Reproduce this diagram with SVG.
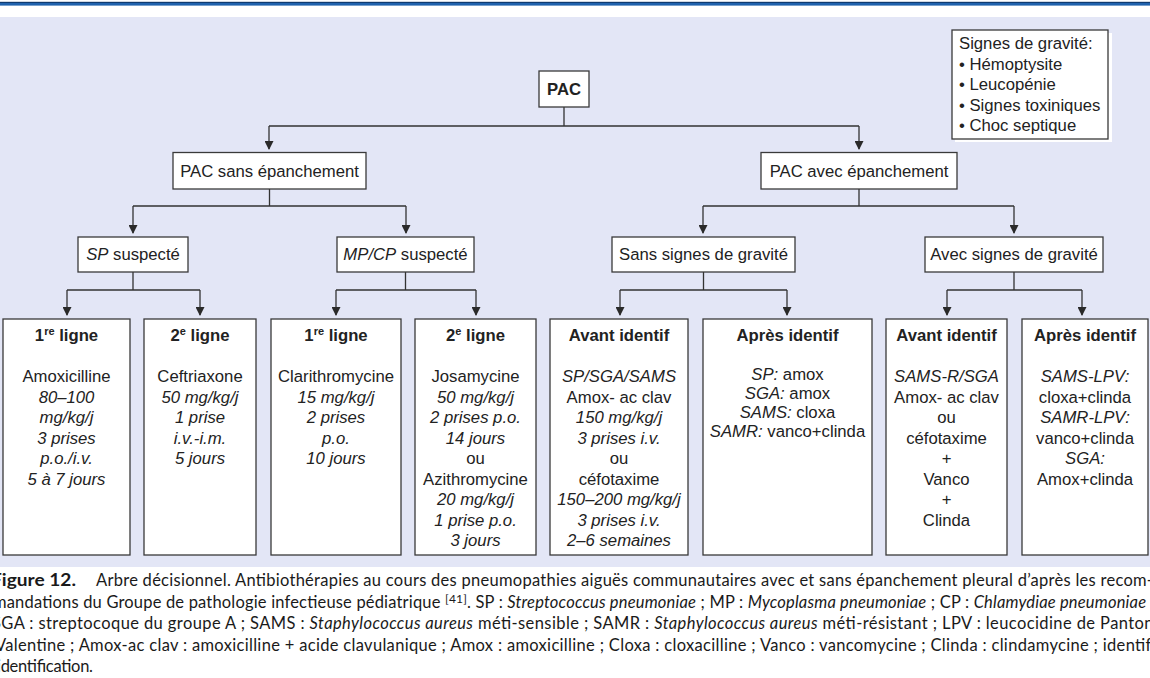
<svg xmlns="http://www.w3.org/2000/svg" width="1150" height="678" viewBox="0 0 1150 678">
<defs>
<style>
.box{fill:#fff;stroke:#3a3a3a;stroke-width:1.3}
.t{font-family:"Liberation Sans",Arial,sans-serif;font-size:16.7px;fill:#222;text-anchor:middle}
.b{font-weight:bold}
.i{font-style:italic}
.conn{fill:none;stroke:#333;stroke-width:1.3}
.cap{font-family:Lato,"Liberation Sans",sans-serif;font-size:16.5px;fill:#1a1a1a}
.sup{font-size:11px}
</style>
<marker id="arr" viewBox="0 0 9 9" refX="8" refY="4.5" markerWidth="9" markerHeight="9" markerUnits="userSpaceOnUse" orient="auto">
<path d="M0,0 L9,4.5 L0,9 z" fill="#2a2a2a"/>
</marker>
</defs>
<rect x="0" y="0" width="1150" height="678" fill="#fff"/>
<rect x="0" y="1.8" width="1150" height="1.2" fill="#0f3a70"/>
<rect x="0" y="3" width="1150" height="2.6" fill="#1f62ad"/>
<rect x="0" y="17" width="1150" height="550" fill="#e3e6f6"/>

<g id="connectors" class="conn">
<path d="M564,107 V126 M269,126 H859"/>
<path d="M269,126 V149" marker-end="url(#arr)"/>
<path d="M859,126 V149" marker-end="url(#arr)"/>
<path d="M269.5,189 V206 M133,206 H406"/>
<path d="M133,206 V233" marker-end="url(#arr)"/>
<path d="M406,206 V233" marker-end="url(#arr)"/>
<path d="M859,189 V206 M703,206 H1014"/>
<path d="M703,206 V233" marker-end="url(#arr)"/>
<path d="M1014,206 V233" marker-end="url(#arr)"/>
<path d="M133,272 V290 M67,290 H200"/>
<path d="M67,290 V315" marker-end="url(#arr)"/>
<path d="M200,290 V315" marker-end="url(#arr)"/>
<path d="M405.5,272 V290 M336,290 H476"/>
<path d="M336,290 V315" marker-end="url(#arr)"/>
<path d="M476,290 V315" marker-end="url(#arr)"/>
<path d="M703.5,272 V290 M620,290 H787"/>
<path d="M620,290 V315" marker-end="url(#arr)"/>
<path d="M787,290 V315" marker-end="url(#arr)"/>
<path d="M1014,272 V290 M947,290 H1082"/>
<path d="M947,290 V315" marker-end="url(#arr)"/>
<path d="M1082,290 V315" marker-end="url(#arr)"/>
</g>

<g id="legend">
<rect x="955" y="33" width="157" height="109" fill="#fff"/>
<rect class="box" x="952" y="30" width="156" height="109"/>
<text class="t" style="text-anchor:start"><tspan x="959" y="49">Signes de gravité:</tspan><tspan x="959" y="69.5">• Hémoptysite</tspan><tspan x="959" y="90">• Leucopénie</tspan><tspan x="959" y="110.5">• Signes toxiniques</tspan><tspan x="959" y="131">• Choc septique</tspan></text>
</g>

<g id="pac">
<rect class="box" x="539" y="71" width="50" height="36"/>
<text class="t b" x="564" y="95">PAC</text>
</g>

<g id="pac-sans">
<rect class="box" x="173" y="152.5" width="193" height="36.5"/>
<text class="t" x="269.5" y="176.5">PAC sans épanchement</text>
</g>
<g id="pac-avec">
<rect class="box" x="761" y="152.5" width="196" height="36.5"/>
<text class="t" x="859" y="176.5">PAC avec épanchement</text>
</g>

<g id="sp-suspecte">
<rect class="box" x="78" y="237" width="110" height="35"/>
<text class="t" x="133" y="260"><tspan class="i">SP</tspan> suspecté</text>
</g>
<g id="mpcp-suspecte">
<rect class="box" x="337" y="237" width="137" height="35"/>
<text class="t" x="405.5" y="260"><tspan class="i">MP/CP</tspan> suspecté</text>
</g>
<g id="sans-signes">
<rect class="box" x="612" y="237" width="183" height="35"/>
<text class="t" x="703.5" y="260">Sans signes de gravité</text>
</g>
<g id="avec-signes">
<rect class="box" x="925" y="237" width="178" height="35"/>
<text class="t" x="1014" y="260">Avec signes de gravité</text>
</g>

<g id="sp-1re-ligne">
<rect class="box" x="3" y="319" width="127" height="236"/>
<text class="t b" x="66.5" y="341">1<tspan class="sup" dy="-6">re</tspan><tspan dy="6"> ligne</tspan></text>
<text class="t" x="66.5" y="382">Amoxicilline</text>
<text class="t i"><tspan x="66.5" y="402.5">80–100</tspan><tspan x="66.5" y="423">mg/kg/j</tspan><tspan x="66.5" y="443.5">3 prises</tspan><tspan x="66.5" y="464">p.o./i.v.</tspan><tspan x="66.5" y="484.5">5 à 7 jours</tspan></text>
</g>

<g id="sp-2e-ligne">
<rect class="box" x="144" y="319" width="112" height="236"/>
<text class="t b" x="200" y="341">2<tspan class="sup" dy="-6">e</tspan><tspan dy="6"> ligne</tspan></text>
<text class="t" x="200" y="382">Ceftriaxone</text>
<text class="t i"><tspan x="200" y="402.5">50 mg/kg/j</tspan><tspan x="200" y="423">1 prise</tspan><tspan x="200" y="443.5">i.v.-i.m.</tspan><tspan x="200" y="464">5 jours</tspan></text>
</g>

<g id="mpcp-1re-ligne">
<rect class="box" x="271" y="319" width="130" height="236"/>
<text class="t b" x="336" y="341">1<tspan class="sup" dy="-6">re</tspan><tspan dy="6"> ligne</tspan></text>
<text class="t" x="336" y="382">Clarithromycine</text>
<text class="t i"><tspan x="336" y="402.5">15 mg/kg/j</tspan><tspan x="336" y="423">2 prises</tspan><tspan x="336" y="443.5">p.o.</tspan><tspan x="336" y="464">10 jours</tspan></text>
</g>

<g id="mpcp-2e-ligne">
<rect class="box" x="415" y="319" width="121" height="236"/>
<text class="t b" x="475.5" y="341">2<tspan class="sup" dy="-6">e</tspan><tspan dy="6"> ligne</tspan></text>
<text class="t" x="475.5" y="382">Josamycine</text>
<text class="t i"><tspan x="475.5" y="402.5">50 mg/kg/j</tspan><tspan x="475.5" y="423">2 prises p.o.</tspan><tspan x="475.5" y="443.5">14 jours</tspan></text>
<text class="t"><tspan x="475.5" y="464">ou</tspan><tspan x="475.5" y="484.5">Azithromycine</tspan></text>
<text class="t i"><tspan x="475.5" y="505">20 mg/kg/j</tspan><tspan x="475.5" y="525.5">1 prise p.o.</tspan><tspan x="475.5" y="546">3 jours</tspan></text>
</g>

<g id="sans-avant-identif">
<rect class="box" x="550" y="319" width="138" height="236"/>
<text class="t b" x="619" y="341">Avant identif</text>
<text class="t i" x="619" y="382">SP/SGA/SAMS</text>
<text class="t" x="619" y="402.5">Amox- ac clav</text>
<text class="t i"><tspan x="619" y="423">150 mg/kg/j</tspan><tspan x="619" y="443.5">3 prises i.v.</tspan></text>
<text class="t"><tspan x="619" y="464">ou</tspan><tspan x="619" y="484.5">céfotaxime</tspan></text>
<text class="t i"><tspan x="619" y="505">150–200 mg/kg/j</tspan><tspan x="619" y="525.5">3 prises i.v.</tspan><tspan x="619" y="546">2–6 semaines</tspan></text>
</g>

<g id="sans-apres-identif">
<rect class="box" x="703" y="319" width="169" height="236"/>
<text class="t b" x="787.5" y="341">Après identif</text>
<text class="t" x="787.5" y="380"><tspan class="i">SP:</tspan> amox</text>
<text class="t" x="787.5" y="399"><tspan class="i">SGA:</tspan> amox</text>
<text class="t" x="787.5" y="418"><tspan class="i">SAMS:</tspan> cloxa</text>
<text class="t" x="787.5" y="437"><tspan class="i">SAMR:</tspan> vanco+clinda</text>
</g>

<g id="avec-avant-identif">
<rect class="box" x="886" y="319" width="121" height="236"/>
<text class="t b" x="946.5" y="341">Avant identif</text>
<text class="t i" x="946.5" y="382">SAMS-R/SGA</text>
<text class="t"><tspan x="946.5" y="402.5">Amox- ac clav</tspan><tspan x="946.5" y="423">ou</tspan><tspan x="946.5" y="443.5">céfotaxime</tspan><tspan x="946.5" y="464">+</tspan><tspan x="946.5" y="484.5">Vanco</tspan><tspan x="946.5" y="505">+</tspan><tspan x="946.5" y="525.5">Clinda</tspan></text>
</g>

<g id="avec-apres-identif">
<rect class="box" x="1022" y="319" width="126" height="236"/>
<text class="t b" x="1085" y="341">Après identif</text>
<text class="t i" x="1085" y="382">SAMS-LPV:</text>
<text class="t" x="1085" y="402.5">cloxa+clinda</text>
<text class="t i" x="1085" y="423">SAMR-LPV:</text>
<text class="t" x="1085" y="443.5">vanco+clinda</text>
<text class="t i" x="1085" y="464">SGA:</text>
<text class="t" x="1085" y="484.5">Amox+clinda</text>
</g>

<g id="caption">
<text class="cap" x="-9" y="586" style="font-weight:bold" textLength="85" lengthAdjust="spacingAndGlyphs">Figure 12.</text>
<text class="cap" x="96" y="586" textLength="1057" lengthAdjust="spacing">Arbre décisionnel. Antibiothérapies au cours des pneumopathies aiguës communautaires avec et sans épanchement pleural d’après les recom-</text>
<text class="cap" x="-7" y="607.5" textLength="1162" lengthAdjust="spacing">mandations du Groupe de pathologie infectieuse pédiatrique <tspan font-size="12" dy="-5">[41]</tspan><tspan dy="5">. SP : </tspan><tspan font-style="italic">Streptococcus pneumoniae</tspan> ; MP : <tspan font-style="italic">Mycoplasma pneumoniae</tspan> ; CP : <tspan font-style="italic">Chlamydiae pneumoniae</tspan> ;</text>
<text class="cap" x="-8" y="629" textLength="1168" lengthAdjust="spacing">SGA : streptocoque du groupe A ; SAMS : <tspan font-style="italic">Staphylococcus aureus</tspan> méti-sensible ; SAMR : <tspan font-style="italic">Staphylococcus aureus</tspan> méti-résistant ; LPV : leucocidine de Panton-</text>
<text class="cap" x="-5" y="650.5" textLength="1165" lengthAdjust="spacing">Valentine ; Amox-ac clav : amoxicilline + acide clavulanique ; Amox : amoxicilline ; Cloxa : cloxacilline ; Vanco : vancomycine ; Clinda : clindamycine ; identif :</text>
<text class="cap" x="-3" y="672" textLength="96" lengthAdjust="spacing">identification.</text>
</g>
</svg>
